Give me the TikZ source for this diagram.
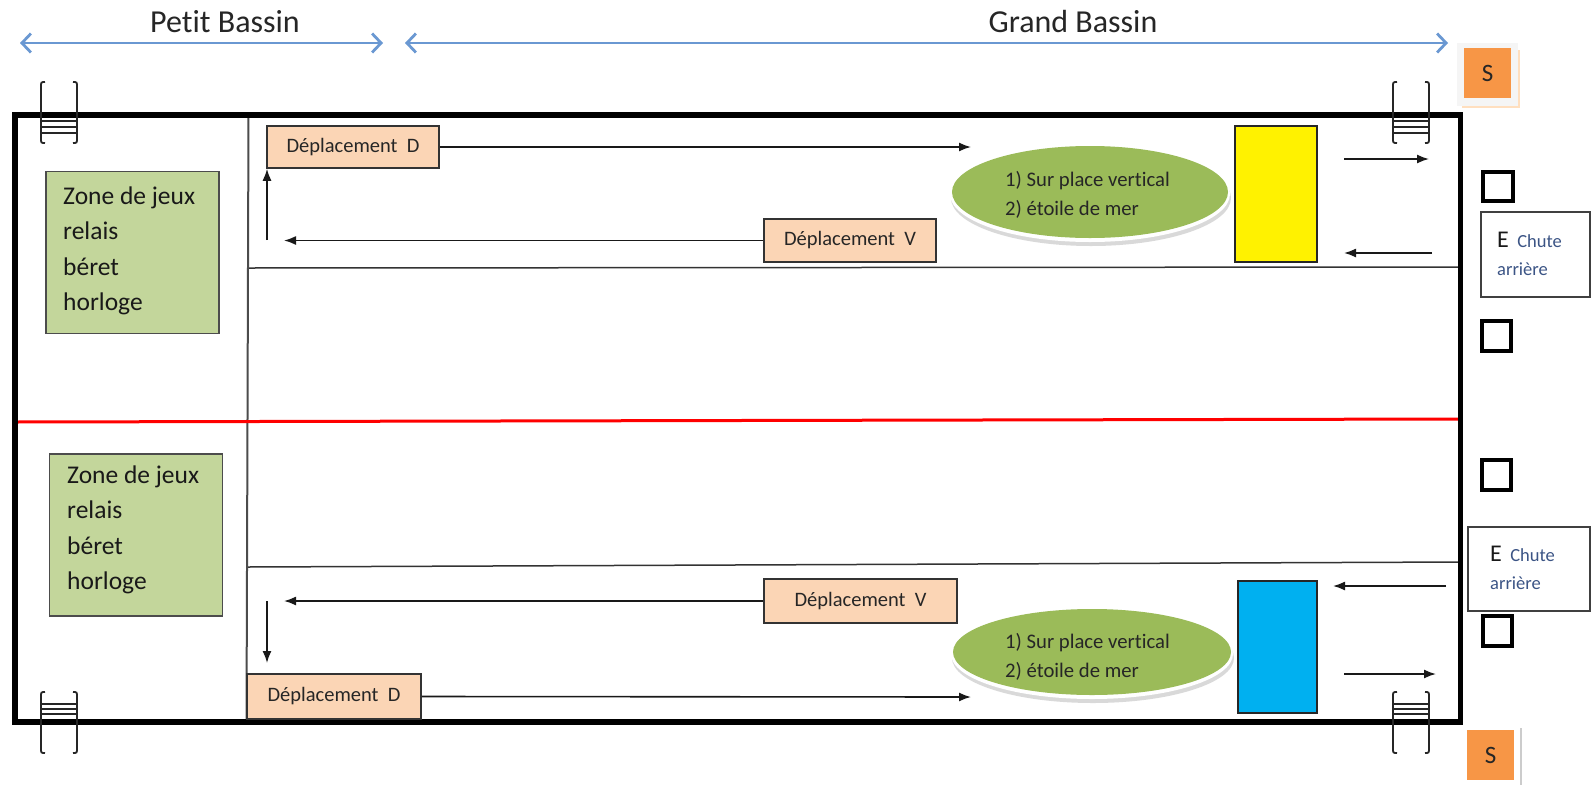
\documentclass[tikz,border=0pt]{standalone}
\usepackage{fontspec}
\setmainfont{Carlito}[Ligatures={NoCommon}]
\usetikzlibrary{arrows.meta,shapes.geometric}
\definecolor{zonegreen}{HTML}{C3D69B}
\definecolor{ovalgreen}{HTML}{9BBB59}
\definecolor{peach}{HTML}{FBD5B5}
\definecolor{sorange}{HTML}{F79646}
\definecolor{arrblue}{HTML}{6A98D2}
\definecolor{poolblue}{HTML}{00B0F0}
\definecolor{chuteblue}{HTML}{3B5485}
\tikzset{
  zonebox/.style={draw=black!70, line width=1.3pt, fill=zonegreen, inner sep=0pt,
    minimum width=173pt, minimum height=162pt},
  zonetext/.style={align=left, inner sep=0pt, text=black!90, font=\fontsize{25.5}{35.5}\selectfont},
  dbox/.style={draw=black!80, line width=1.5pt, fill=peach, inner sep=0pt,
    text=black!85, font=\fontsize{20.5}{24}\selectfont},
  arr/.style={-{Latex[length=12pt,width=9pt]}, line width=1.6pt, draw=black!90},
  ovaltext/.style={align=left, inner sep=0pt, text=black!85, font=\fontsize{20.7}{29.5}\selectfont},
  sbox/.style={fill=sorange, inner sep=0pt, minimum width=47pt, minimum height=50pt,
    text=black!85, font=\fontsize{25}{28}\selectfont},
  sq/.style={draw=black, line width=4pt, fill=white, minimum size=29.5pt, inner sep=0pt},
  ebox/.style={draw=black!75, line width=1.5pt, fill=white, inner sep=0pt},
  etext/.style={align=left, inner sep=0pt, text=chuteblue, font=\fontsize{18.5}{28}\selectfont},
  lane/.style={draw=black!80, line width=1.5pt},
  blueline/.style={draw=arrblue, line width=2.8pt, {Straight Barb[length=9pt,width=19pt]}-{Straight Barb[length=9pt,width=19pt]}},
  title/.style={text=black!85, font=\fontsize{32}{36}\selectfont, inner sep=0pt},
  rail/.style={draw=black!85, line width=1.8pt},
  rung/.style={draw=black!85, line width=1.4pt},
  ladtop/.pic={
    \draw[rail] (5,0) .. controls (1,0) .. (1,5) -- (1,56) .. controls (1,61) .. (5,61);
    \draw[rail] (33,0) .. controls (37,0) .. (37,5) -- (37,56) .. controls (37,61) .. (33,61);
    \draw[rung] (1,39) -- (37,39) (1,45) -- (37,45) (1,51) -- (37,51);
  },
  ladbot/.pic={
    \draw[rail] (5,0) .. controls (1,0) .. (1,5) -- (1,56) .. controls (1,61) .. (5,61);
    \draw[rail] (33,0) .. controls (37,0) .. (37,5) -- (37,56) .. controls (37,61) .. (33,61);
    \draw[rung] (1,12) -- (37,12) (1,17) -- (37,17) (1,22) -- (37,22);
  }
}
\begin{document}
\begin{tikzpicture}[x=1pt,y=-1pt]
\useasboundingbox (0,0) rectangle (1591,785);
\fill[white] (0,0) rectangle (1591,785);

% titles and range arrows
\node[title] (tpetit) at (225,22) {Petit Bassin};
\node[title] (tgrand) at (1073,22) {Grand Bassin};
\coordinate (pa) at (20,43);
\coordinate (pb) at (383,43);
\coordinate (ga) at (405,43);
\coordinate (gb) at (1448,43);
\draw[blueline] (pa) -- (pb);
\draw[blueline] (ga) -- (gb);

% lanes and separators
\draw[lane] (248,268) -- (1461,267);
\draw[lane] (248,567) -- (1461,562);
\draw[draw=black!70, line width=2pt] (248.5,115) -- (246.5,722);
\draw[red, line width=3pt] (15,422) -- (1461,419);

% pool outline
\draw[black, line width=5.5pt, line join=miter] (15,115) rectangle (1460.5,722);

% ladders
\pic at (40,82) {ladtop};
\pic at (1392,82) {ladtop};
\pic at (40,692) {ladbot};
\pic at (1392,692) {ladbot};

% zones
\node[zonebox] (uz) at (132.5,252.5) {};
\node[zonetext, anchor=west] (uzt) at (63,251) {Zone de jeux\\relais\\béret\\horloge};
\node[zonebox] (lz) at (136,535) {};
\node[zonetext, anchor=west] (lzt) at (67,530) {Zone de jeux\\relais\\béret\\horloge};

% ovals
\fill[gray!30] (1091,198) ellipse [x radius=140pt, y radius=48pt];
\fill[white] (1090,194) ellipse [x radius=140pt, y radius=48pt];
\node[ellipse, fill=ovalgreen, minimum width=276pt, minimum height=92pt, inner sep=0pt] (uo) at (1090,192) {};
\node[ovaltext, anchor=west] (uot) at (1005,195) {1) Sur place vertical\\2) étoile de mer};
\fill[gray!30] (1093,658) ellipse [x radius=141pt, y radius=45pt];
\fill[white] (1092,654) ellipse [x radius=141pt, y radius=45pt];
\node[ellipse, fill=ovalgreen, minimum width=278pt, minimum height=86pt, inner sep=0pt] (lo) at (1092,652) {};
\node[ovaltext, anchor=west] (lot) at (1005,657) {1) Sur place vertical\\2) étoile de mer};

% coloured blocks
\node[draw=black!85, line width=1.5pt, fill=yellow, minimum width=82pt, minimum height=136pt, inner sep=0pt] (yel) at (1276,194) {};
\node[draw=black!85, line width=1.5pt, fill=poolblue, minimum width=79pt, minimum height=132pt, inner sep=0pt] (blu) at (1277.5,647) {};

% deplacement boxes
\node[dbox, minimum width=172pt, minimum height=42pt] (ud) at (353,147) {Déplacement\ \ D};
\node[dbox, minimum width=172pt, minimum height=43pt] (uv) at (850,240.5) {Déplacement\ \ V};
\node[dbox, minimum width=193pt, minimum height=44pt] (lv) at (860.5,601) {Déplacement\ \ V};
\node[dbox, minimum width=174pt, minimum height=45pt] (ld) at (334,696.5) {Déplacement\ \ D};

% arrows upper lane
\coordinate (u1) at (971,147);
\draw[arr] (ud.east) -- (u1);
\coordinate (u2) at (284,240.5);
\draw[arr] (uv.west) -- (u2);
\coordinate (u3) at (267,240);
\draw[arr] (u3) -- (u3 |- ud.south);
\coordinate (u4a) at (1344,159);
\coordinate (u4b) at (1429,159);
\draw[arr] (u4a) -- (u4b);
\coordinate (u5a) at (1432,253);
\coordinate (u5b) at (1344,253);
\draw[arr] (u5a) -- (u5b);

% arrows lower lane
\coordinate (l1) at (284,601);
\draw[arr] (lv.west) -- (l1);
\coordinate (l2) at (267,601);
\coordinate (l2b) at (267,663);
\draw[arr] (l2) -- (l2b);
\coordinate (l3) at (971,697);
\draw[arr] (ld.east) -- (l3);
\coordinate (l4a) at (1446,586);
\coordinate (l4b) at (1333,586);
\draw[arr] (l4a) -- (l4b);
\coordinate (l5a) at (1344,674);
\coordinate (l5b) at (1436,674);
\draw[arr] (l5a) -- (l5b);

% S blocks
\fill[gray!8] (1457,43) rectangle (1518,106);
\draw[orange!25, line width=1.5pt] (1519,50) -- (1519,107) -- (1462,107);
\node[sbox] (s1) at (1487.5,73) {S};
\node[sbox] (s2) at (1490.5,755) {S};
\draw[gray!40, line width=1.5pt] (1521,728) -- (1521,785);

% small squares
\node[sq] (q1) at (1498,186.5) {};
\node[sq] (q2) at (1496.5,336) {};
\node[sq] (q3) at (1496.5,475) {};
\node[sq] (q4) at (1497.5,631) {};

% E boxes
\node[ebox, minimum width=109pt, minimum height=85pt] (e1) at (1535.5,254.5) {};
\node[etext, anchor=west] (e1t) at (1497,254) {{\color{black!90}\fontsize{24}{28}\selectfont E}\ \ Chute\\arrière};
\node[ebox, minimum width=122pt, minimum height=84pt] (e2) at (1529,569) {};
\node[etext, anchor=west] (e2t) at (1490,568) {{\color{black!90}\fontsize{24}{28}\selectfont E}\ \ Chute\\arrière};
\end{tikzpicture}
\end{document}
